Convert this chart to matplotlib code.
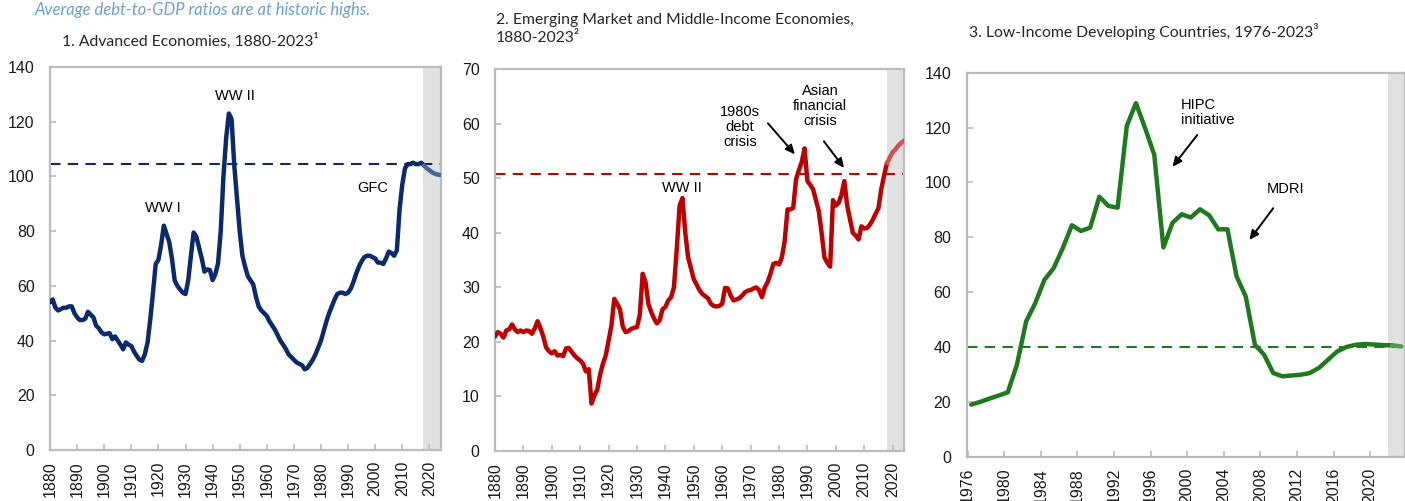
import numpy as np
import matplotlib
matplotlib.use('Agg')
import matplotlib.pyplot as plt

# --- data ------------------------------------------------------------------
years_long = np.arange(1880, 2025)

adv_debt = [54, 55, 52, 51, 51.5, 52, 52, 52.5, 52.5, 50,
            48.5, 47.5, 47.5, 48, 50.5, 49.5, 48.5, 45.5, 44.5, 43,
            42.3, 42.5, 42.7, 40.5, 41.5, 40, 38.5, 36.8, 39.3, 38.5,
            38, 36, 34.4, 33, 32.6, 35, 39.3, 47.8, 57.5, 68,
            69.5, 75, 82, 79, 76, 70, 62, 60, 58.7, 57.5,
            57, 62, 71, 79.5, 78, 74, 70, 65.2, 66, 65.8,
            62.1, 64.2, 68.2, 80, 100, 114, 123, 121, 104, 92,
            80, 71, 67, 63.5, 62, 60.5, 56, 52.5, 51, 50,
            49, 47, 45.5, 44, 42, 40, 38.5, 37, 35, 34,
            33, 32, 31.5, 31, 29.5, 30, 31.5, 33, 35, 37.5,
            40, 43.5, 47, 50, 52.5, 55, 57, 57.5, 57.5, 57,
            57.5, 59, 61.5, 64.5, 67, 69, 70.5, 71, 71, 70.5,
            70, 68.5, 68.5, 68, 70, 72.5, 72, 71, 73, 88,
            97, 103, 104.5, 104.5, 105, 104.5, 104.5, 105, 104, 103,
            102.3, 101.5, 101, 100.7, 100.5]

em_debt = [21, 21.8, 21.5, 20.8, 22.1, 22.3, 23.2, 22.3, 21.8, 22.1,
           21.8, 22.1, 22, 21.5, 22.5, 23.8, 22.5, 21, 19, 18.3,
           17.9, 18.3, 17.5, 17.6, 17.4, 18.8, 18.9, 18.2, 17.5, 17,
           16.6, 16, 14.6, 15, 8.7, 10.2, 11.2, 14, 16, 17.5,
           20.3, 23, 27.9, 27, 26, 22.8, 21.8, 22, 22.4, 22.6,
           22.7, 25, 32.5, 31, 27, 25.5, 24.3, 23.4, 24, 26,
           26.4, 27.6, 28.2, 30, 37, 45, 46.4, 40, 35.5, 33.5,
           31.5, 30.5, 29.5, 28.8, 28.4, 28, 27, 26.6, 26.5, 26.6,
           27, 29.9, 29.8, 28.5, 27.6, 27.8, 28, 28.5, 29.1, 29.4,
           29.5, 29.8, 30, 29.5, 28.2, 30, 31, 32.5, 34.3, 34.5,
           34.2, 35.5, 38.5, 44.3, 44.3, 44.6, 49.8, 51.5, 53, 55.5,
           49.5, 48.8, 48, 46, 44, 40, 35.5, 34.5, 33.8, 46,
           45, 45.5, 47, 49.5, 45, 42.5, 40, 39.5, 38.8, 41.2,
           40.8, 40.9, 41.5, 42.4, 43.5, 44.5, 48, 50.5, 52.8, 53.8,
           54.8, 55.3, 56, 56.5, 56.9]

years_lic = np.arange(1976, 2024)
lic_debt = [19, 20, 21.2, 22.3, 23.5, 33.6, 49.3, 56, 64.5, 68.7,
            76, 84.4, 82.3, 83.5, 94.8, 91.4, 90.8, 120.6, 128.9, 119.8,
            110.1, 76.3, 85.3, 88.4, 87.2, 90.2, 88, 82.9, 82.9, 65.7,
            58.4, 40.8, 37.2, 30.5, 29.3, 29.6, 29.9, 30.5, 32.4, 35.4,
            38.4, 40, 40.8, 41.1, 40.9, 40.7, 40.6, 40.2]

avg_adv, avg_em, avg_lic = 104.6, 50.8, 40.0

titles = ['1. Advanced Economies, 1880-2023\u00b9',
          '2. Emerging Market and Middle-Income Economies,\n1880-2023\u00b2',
          '3. Low-Income Developing Countries, 1976-2023\u00b3']

# --- styling -------------------------------------------------------------------
plt.rcParams['font.family'] = ['Liberation Sans', 'DejaVu Sans']
tfont = ['Lato', 'DejaVu Sans']
navy, navy_l = '#0a2a6e', '#4a6594'
red, red_l = '#c00000', '#d4504f'
green, green_l = '#1f7a1f', '#4f9a4f'
shade = '#e1e1e1'
spine_c = '#bcbcbc'

fig = plt.figure(figsize=(14.05, 5.01), dpi=100)
ax1 = fig.add_axes([0.0356, 0.1018, 0.2783, 0.7645])
ax2 = fig.add_axes([0.3523, 0.0998, 0.2913, 0.7619])
ax3 = fig.add_axes([0.6880, 0.0884, 0.3120, 0.7665])


def style(ax):
    for s in ax.spines.values():
        s.set_color(spine_c)
        s.set_linewidth(1.6)
    ax.tick_params(direction='in', color=spine_c, length=4, width=1.2,
                   labelsize=11.5, colors='#1a1a1a')
    ax.tick_params(axis='x', pad=8, labelrotation=90)
    ax.tick_params(axis='y', pad=11)
    for lab in ax.get_xticklabels() + ax.get_yticklabels():
        lab.set_color('#1a1a1a')


def draw(ax, x, y, split, c, cl, avg, xlim, ylim, shade_from, yticks, xticks):
    x = np.asarray(x, float)
    y = np.asarray(y, float)
    ax.axvspan(shade_from, xlim[1] + 1, color=shade, lw=0, zorder=0)
    ax.axhline(avg, color=c, lw=1.5, ls=(0, (5, 3.5)), zorder=2)
    m = x <= split
    ax.plot(x[m], y[m], color=c, lw=3.2, solid_joinstyle='round',
            solid_capstyle='round', zorder=3)
    m2 = x >= split
    ax.plot(x[m2], y[m2], color=cl, lw=3.2, solid_joinstyle='round',
            solid_capstyle='round', zorder=3)
    ax.set_xlim(*xlim)
    ax.set_ylim(*ylim)
    ax.set_yticks(yticks)
    ax.set_xticks(xticks)
    style(ax)


draw(ax1, years_long, adv_debt, 2018, navy, navy_l, avg_adv,
     (1880, 2024.3), (0, 140), 2017.8, range(0, 141, 20), range(1880, 2021, 10))
draw(ax2, years_long, em_debt, 2018, red, red_l, avg_em,
     (1880, 2024.1), (0, 70), 2017.9, range(0, 71, 10), range(1880, 2021, 10))
draw(ax3, years_lic + 0.4, lic_debt, 2022.4, green, green_l, avg_lic,
     (1975.9, 2023.8), (0, 140), 2021.9, range(0, 141, 20), range(1976, 2021, 4))

# --- titles ----------------------------------------------------------------------
fig.text(35 / 1405, 1 - 10 / 501, 'Average debt-to-GDP ratios are at historic highs.',
         family=tfont, style='italic', fontsize=12, color='#6d9fd3', va='center')
fig.text(62 / 1405, 1 - 41 / 501, titles[0], family=tfont, fontsize=11.3,
         color='#262626', va='center')
fig.text(496 / 1405, 1 - 29 / 501, titles[1], family=tfont, fontsize=11.3,
         color='#262626', va='center', linespacing=1.45)
fig.text(969 / 1405, 1 - 31 / 501, titles[2], family=tfont, fontsize=11.3,
         color='#262626', va='center')

# --- annotations -----------------------------------------------------------------
afs = 10.5
ax1.text(1948.3, 129.4, 'WW II', ha='center', va='center', fontsize=afs)
ax1.text(1921.6, 88.5, 'WW I', ha='center', va='center', fontsize=afs)
ax1.text(1999, 95.8, 'GFC', ha='center', va='center', fontsize=afs)

ax2.text(1945.7, 48.2, 'WW II', ha='center', va='center', fontsize=afs)
ax2.text(1966.3, 59.4, '1980s\ndebt\ncrisis', ha='center', va='center',
         fontsize=afs, linespacing=1.1)
ax2.text(1994.4, 63.3, 'Asian\nfinancial\ncrisis', ha='center', va='center',
         fontsize=afs, linespacing=1.1)
arrow = dict(arrowstyle='-|>,head_length=0.55,head_width=0.25', color='black',
             lw=1.4, shrinkA=0, shrinkB=0)
ax2.annotate('', xy=(1985.6, 54.4), xytext=(1976.1, 60.1), arrowprops=arrow)
ax2.annotate('', xy=(2002.9, 51.9), xytext=(1995.8, 56.8), arrowprops=arrow)

ax3.text(1999.3, 125.6, 'HIPC\ninitiative', ha='left', va='center',
         fontsize=afs, linespacing=1.1)
ax3.text(2010.7, 97.5, 'MDRI', ha='center', va='center', fontsize=afs)
ax3.annotate('', xy=(1998.4, 105.7), xytext=(2001.1, 117.3), arrowprops=arrow)
ax3.annotate('', xy=(2006.8, 79), xytext=(2009.4, 90.6), arrowprops=arrow)

fig.savefig('out.png', dpi=100)
